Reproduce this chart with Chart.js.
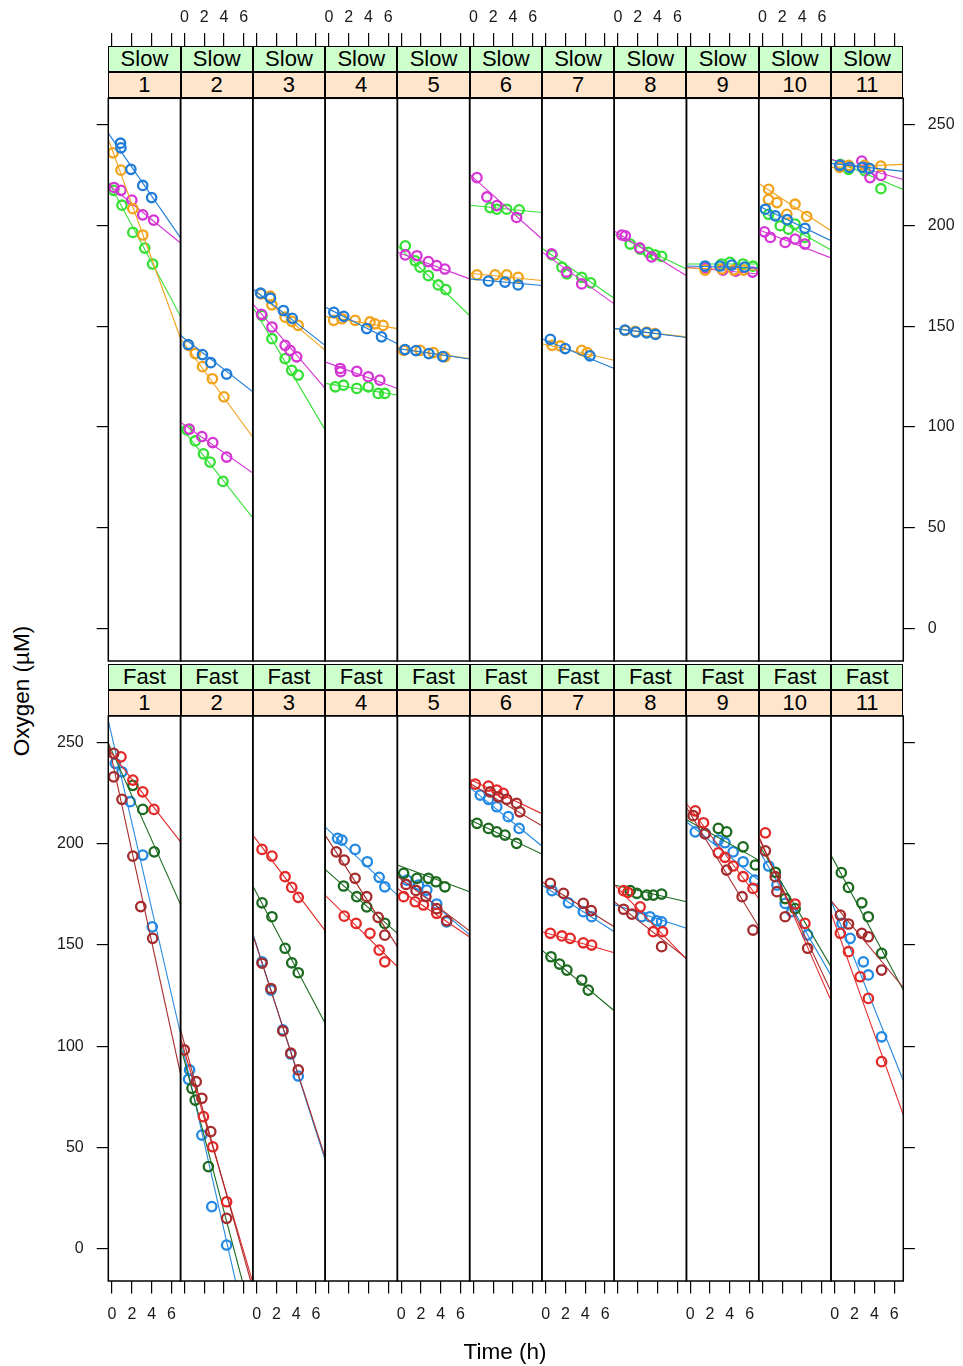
<!DOCTYPE html>
<html>
<head>
<meta charset="utf-8">
<script src="https://cdn.jsdelivr.net/npm/chart.js@4.4.1/dist/chart.umd.min.js"></script>
<style>
  body { margin: 0; background: #fff; }
  #page { position: relative; width: 963px; height: 1366px; overflow: hidden; font-family: "Liberation Sans", Arial, sans-serif; }
  .strip { position: absolute; box-sizing: border-box; border: 1px solid #000; text-align: center; font-size: 22px; color: #000; }
  .panel { position: absolute; }
  .title { position: absolute; font-size: 22.5px; color: #000; white-space: nowrap; }
</style>
</head>
<body>
<div id="page"></div>
<script>
// axis ticks and strip labels
const xTicks = [0, 2, 4, 6];
const yTicks = [0, 50, 100, 150, 200, 250];
const rowLabels = ['Slow', 'Fast'];
const panelLabels = ['1', '2', '3', '4', '5', '6', '7', '8', '9', '10', '11'];

// points: [series, time (h), oxygen (µM)]
// slow series: 0 blue, 1 orange, 2 magenta, 3 green
const slow1 = [
  [0, 0.85, 241], [0, 0.9, 238.7], [0, 1.9, 228], [0, 3.1, 220], [0, 4.0, 214],
  [1, 0.1, 236.2], [1, 0.9, 227.6], [1, 2.1, 208.5], [1, 3.1, 195.4],
  [2, 0.2, 219], [2, 0.9, 217.6], [2, 2.0, 212.7], [2, 3.1, 205.4], [2, 4.2, 202.8],
  [3, 0.16, 217.6], [3, 1.0, 210.2], [3, 2.1, 196.7], [3, 3.3, 188.9], [3, 4.1, 181]
];
const slow2 = [
  [0, 0.4, 141], [0, 1.83, 136], [0, 2.67, 132], [0, 4.27, 126.3],
  [1, 0.43, 140.6], [1, 1.1, 136.5], [1, 1.83, 130], [1, 2.83, 124], [1, 4.0, 115],
  [2, 0.5, 99], [2, 1.77, 95.3], [2, 2.87, 92.3], [2, 4.27, 85.1],
  [3, 0.27, 98.6], [3, 1.1, 93.1], [3, 1.93, 86.7], [3, 2.6, 82.6], [3, 3.9, 73]
];
const slow3 = [
  [0, 0.4, 166.5], [0, 1.4, 164], [0, 2.71, 157.9], [0, 3.6, 154],
  [1, 0.45, 166.2], [1, 1.38, 165], [1, 1.55, 160.7], [1, 2.88, 154.6], [1, 3.55, 152.5], [1, 4.2, 150.5],
  [2, 0.5, 156], [2, 1.55, 149.7], [2, 2.88, 140.6], [2, 3.38, 138.1], [2, 4.05, 134.9],
  [3, 0.55, 155.4], [3, 1.55, 143.9], [3, 2.88, 134], [3, 3.55, 128.2], [3, 4.2, 125.8]
];
const slow4 = [
  [0, 0.5, 157], [0, 1.5, 155], [0, 3.82, 148.9], [0, 5.32, 144.8],
  [1, 0.48, 153], [1, 1.32, 153.8], [1, 2.65, 153], [1, 4.15, 152.2], [1, 4.65, 151.3], [1, 5.48, 150.5],
  [2, 1.15, 129.1], [2, 1.2, 127.5], [2, 2.82, 127.7], [2, 3.98, 125], [2, 5.15, 123.3],
  [3, 0.65, 120], [3, 1.48, 120.8], [3, 2.82, 119.2], [3, 3.98, 120], [3, 4.98, 116.7], [3, 5.65, 116.7]
];
const slow5 = [
  [0, 0.4, 138.5], [0, 1.5, 138], [0, 2.8, 136.5], [0, 4.2, 135],
  [1, 0.25, 138.1], [1, 1.92, 138.1], [1, 3.25, 137], [1, 4.42, 134.9],
  [2, 0.42, 185.5], [2, 1.59, 185.1], [2, 2.75, 182.2], [2, 3.59, 180.2], [2, 4.42, 178.5],
  [3, 0.42, 190], [3, 1.42, 182.6], [3, 1.92, 179.4], [3, 2.75, 175.2], [3, 3.75, 170.6], [3, 4.52, 168.3]
];
const slow6 = [
  [0, 1.52, 172.5], [0, 3.19, 172], [0, 4.52, 170.6],
  [1, 0.36, 175.6], [1, 2.19, 175.6], [1, 3.36, 175.6], [1, 4.52, 174.4],
  [2, 0.36, 223.9], [2, 1.36, 214.3], [2, 2.36, 210], [2, 4.36, 204.1],
  [3, 1.69, 209], [3, 2.36, 208.2], [3, 3.36, 208.2], [3, 4.62, 207.9]
];
const slow7 = [
  [0, 0.47, 143.6], [0, 1.97, 139], [0, 4.47, 135.4],
  [1, 0.64, 140.6], [1, 1.47, 140.3], [1, 3.64, 138.1], [1, 4.2, 137],
  [2, 0.6, 186], [2, 2.1, 177], [2, 3.64, 171.1],
  [3, 0.64, 185.5], [3, 1.64, 179.4], [3, 2.14, 176.1], [3, 3.64, 174.4], [3, 4.54, 171.6]
];
const slow8 = [
  [0, 0.7, 148.2], [0, 1.8, 147.2], [0, 2.9, 146.8], [0, 3.8, 146],
  [1, 0.74, 148], [1, 1.74, 147.5], [1, 2.91, 147.2], [1, 3.74, 146.4],
  [2, 0.41, 195.4], [2, 0.74, 195], [2, 2.2, 189], [2, 3.4, 184.5],
  [3, 1.24, 190.9], [3, 2.24, 188.4], [3, 3.07, 186.8], [3, 3.74, 185.5], [3, 4.41, 184.8]
];
const slow9 = [
  [0, 1.5, 180], [0, 3.0, 180], [0, 4.2, 180.5], [0, 5.5, 179.5],
  [1, 1.5, 178], [1, 3.2, 178.5], [1, 4.4, 178], [1, 5.4, 178],
  [2, 1.6, 179], [2, 3.3, 178], [2, 4.6, 177.5], [2, 6.3, 177],
  [3, 1.51, 179.4], [3, 3.18, 181], [3, 4.01, 181.8], [3, 5.34, 181], [3, 6.34, 179.9]
];
const slow10 = [
  [0, 0.29, 208.2], [0, 1.29, 204.9], [0, 2.5, 203], [0, 4.29, 198.7],
  [1, 0.62, 218.1], [1, 0.6, 213], [1, 1.46, 211.5], [1, 2.46, 205.7], [1, 3.29, 210.7], [1, 4.46, 204.6],
  [2, 0.2, 197], [2, 0.79, 194.2], [2, 2.29, 191.7], [2, 3.29, 193.4], [2, 4.29, 190.9],
  [3, 0.62, 205.7], [3, 1.79, 200], [3, 2.62, 198.3], [3, 3.29, 200.8], [3, 4.29, 194.2]
];
const slow11 = [
  [0, 0.5, 230], [0, 1.5, 229], [0, 2.8, 229], [0, 3.5, 228.5],
  [1, 0.5, 229], [1, 1.4, 230], [1, 3.0, 230], [1, 4.66, 229.6],
  [2, 0.6, 230], [2, 2.73, 232.1], [2, 3.56, 223.9], [2, 4.66, 225],
  [3, 0.56, 230.5], [3, 1.39, 228], [3, 3.06, 227.2], [3, 4.66, 218.4]
];

// fast series: 0 brown, 1 red, 2 dark green, 3 blue
const fast1 = [
  [0, 0.16, 244.8], [0, 0.16, 233.2], [0, 1.0, 222.1], [0, 2.1, 194], [0, 2.9, 169], [0, 4.1, 153.3],
  [1, 0.9, 243.1], [1, 2.1, 231.6], [1, 3.1, 225.8], [1, 4.23, 217.1],
  [2, 2.1, 229], [2, 3.1, 217.1], [2, 4.26, 196.1],
  [3, 0.33, 239.9], [3, 1.0, 235.7], [3, 1.83, 220.9], [3, 3.1, 194.5], [3, 4.06, 159]
];
const fast2 = [
  [0, 0.0, 98.1], [0, 1.2, 82.4], [0, 1.77, 74.2], [0, 2.67, 57.7], [0, 4.27, 14.8],
  [1, 1.93, 65.1], [1, 2.87, 50.2], [1, 4.27, 23],
  [2, 0.77, 79.1], [2, 1.1, 73.3], [2, 2.43, 40.4],
  [3, 0.43, 83.6], [3, 0.53, 88.2], [3, 1.77, 56], [3, 2.77, 20.6], [3, 4.27, 1.6]
];
const fast3 = [
  [0, 0.55, 141], [0, 1.45, 128.5], [0, 2.65, 107.5], [0, 3.45, 96.5], [0, 4.21, 88.2],
  [1, 0.55, 197.3], [1, 1.55, 194], [1, 2.88, 183.8], [1, 3.55, 178.5], [1, 4.21, 173.6],
  [2, 0.55, 170.9], [2, 1.55, 164], [2, 2.88, 148.4], [2, 3.55, 141.2], [2, 4.21, 136.3],
  [3, 0.55, 141.7], [3, 1.45, 127.7], [3, 2.65, 108], [3, 3.45, 96.1], [3, 4.21, 85.2]
];
const fast4 = [
  [0, 0.75, 196.1], [0, 1.55, 192], [0, 2.65, 183], [0, 3.82, 173.9], [0, 4.98, 163.7], [0, 5.65, 154.9],
  [1, 1.55, 164.3], [1, 2.75, 160.7], [1, 4.15, 155.8], [1, 5.08, 147.5], [1, 5.65, 141.7],
  [2, 1.48, 179.2], [2, 2.82, 173.9], [2, 3.82, 168.9], [2, 5.65, 160.7],
  [3, 0.88, 202.8], [3, 1.32, 201.9], [3, 2.65, 197.3], [3, 3.88, 191.2], [3, 5.08, 183.5], [3, 5.65, 178.8]
];
const fast5 = [
  [0, 0.5, 180], [0, 1.5, 177], [0, 2.5, 174], [0, 3.6, 168], [0, 4.6, 162],
  [1, 0.25, 173.9], [1, 1.42, 171.4], [1, 2.25, 169.8], [1, 3.59, 165.7],
  [2, 0.25, 185.5], [2, 1.59, 183], [2, 2.75, 183], [2, 3.52, 181.3], [2, 4.42, 178.8],
  [3, 0.59, 182.1], [3, 1.75, 179.7], [3, 2.59, 177.2], [3, 3.59, 170.3], [3, 4.59, 161.5]
];
const fast6 = [
  [0, 1.69, 225.8], [0, 2.52, 223.3], [0, 3.36, 222.1], [0, 4.36, 220.1], [0, 4.69, 215.9],
  [1, 0.19, 229.6], [1, 1.52, 228.6], [1, 2.36, 226.7], [1, 3.02, 225],
  [2, 0.36, 210.2], [2, 1.52, 207.7], [2, 2.36, 206], [2, 3.19, 204.4], [2, 4.36, 200.3],
  [3, 0.69, 224.2], [3, 1.52, 222.1], [3, 2.36, 218.4], [3, 3.52, 213.5], [3, 4.62, 207.7]
];
const fast7 = [
  [0, 0.47, 180.5], [0, 1.8, 175.6], [0, 3.8, 170.6], [0, 4.6, 167],
  [1, 0.47, 155.8], [1, 1.64, 154.5], [1, 2.47, 153.3], [1, 3.8, 151.1], [1, 4.64, 150],
  [2, 0.54, 144.2], [2, 1.4, 140.6], [2, 2.14, 137.6], [2, 3.64, 132.7], [2, 4.3, 127.7],
  [3, 0.64, 176.9], [3, 2.3, 170.9], [3, 3.8, 166.5], [3, 4.64, 164]
];
const fast8 = [
  [0, 0.57, 167.7], [0, 1.41, 165.3], [0, 4.41, 149.2],
  [1, 0.57, 176.9], [1, 1.0, 176], [1, 2.24, 168.9], [1, 3.57, 156.6], [1, 4.51, 156.6],
  [2, 1.24, 176.9], [2, 1.91, 175.6], [2, 2.91, 174.7], [2, 3.57, 174.7], [2, 4.41, 175.2],
  [3, 2.41, 164], [3, 3.23, 164], [3, 3.91, 162], [3, 4.41, 161.5]
];
const fast9 = [
  [0, 0.3, 214], [0, 1.5, 205], [0, 3.68, 187.1], [0, 5.24, 173.9], [0, 6.34, 157.4],
  [1, 0.51, 216.4], [1, 1.34, 210.5], [1, 2.84, 195.6], [1, 3.51, 193.4], [1, 4.34, 189.1], [1, 5.34, 183.8], [1, 6.34, 178],
  [2, 2.84, 207.7], [2, 3.68, 206], [2, 5.34, 198.6], [2, 6.58, 189.6],
  [3, 0.51, 206], [3, 1.51, 205.2], [3, 2.84, 201.9], [3, 3.51, 200.6], [3, 4.34, 196.1], [3, 5.34, 191.2], [3, 6.51, 182.1]
];
const fast10 = [
  [0, 0.29, 196.6], [0, 1.29, 183.8], [0, 1.46, 176.4], [0, 2.29, 164], [0, 4.56, 148.4],
  [1, 0.29, 205.5], [1, 3.29, 170.3], [1, 4.29, 160.7],
  [2, 1.3, 186], [2, 2.3, 173], [2, 3.3, 168],
  [3, 0.62, 189.1], [3, 1.46, 179.7], [3, 2.29, 170.6], [3, 2.96, 166.5], [3, 4.56, 155]
];
const fast11 = [
  [0, 0.56, 164.8], [0, 1.39, 160.4], [0, 2.73, 155.8], [0, 3.39, 154.1], [0, 4.73, 137.6],
  [1, 0.56, 155.8], [1, 1.39, 146.7], [1, 2.56, 134.3], [1, 3.39, 123.6], [1, 4.73, 92.3],
  [2, 0.66, 185.8], [2, 1.39, 178.5], [2, 2.73, 170.9], [2, 3.39, 164], [2, 4.73, 145.9],
  [3, 0.73, 160.7], [3, 1.56, 153.3], [3, 2.89, 141.7], [3, 3.39, 135.2], [3, 4.73, 104.6]
];

// fitted lines: oxygen at the left and right edge of each panel, per series
const slowFitStart = [
  [246, 243, 220.5, 222], [145.5, 144, 102.4, 100.2], [168.6, 168.6, 161.2, 159.6],
  [159.6, 155, 132.4, 121.7], [139, 139, 186.8, 190], [173.6, 176.4, 225.5, 210.2],
  [143.9, 141.4, 187, 188.8], [149, 148.9, 197.4, 195.8], [180, 179, 179.4, 181],
  [209.8, 221, 198, 208], [231, 229, 233, 233]
];
const slowFitEnd = [
  [194, 144, 191.4, 155], [117.5, 95, 77.2, 54.9], [140.6, 138.1, 119.2, 98.6],
  [141.4, 148.9, 119.2, 115.9], [133.8, 134, 173.6, 155.4], [170.3, 172.8, 193.4, 206.6],
  [129.1, 133.2, 161.2, 164], [144.5, 144.8, 175.2, 178.5], [179, 178, 176, 181],
  [192.6, 197.5, 184, 188], [227, 230.5, 223, 218]
];
const fastFitStart = [
  [250, 247, 250, 261], [108, 104, 100, 104], [155, 204.4, 179.2, 155.8],
  [204.4, 174.7, 187.4, 208.5], [184, 178, 189.6, 186], [230, 232, 212, 228],
  [181.3, 156.6, 147.5, 179.7], [171.4, 180, 179.7, 170], [218, 220, 212, 211],
  [203, 204, 200, 197], [172, 166, 194.5, 172]
];
const fastFitEnd = [
  [86, 201, 170, 106], [-20, -17, -36, -54], [45, 157.1, 111.3, 43.7],
  [149.2, 139.3, 155.8, 174.7], [157, 154, 176.4, 155], [209, 215, 195, 199],
  [159, 146.2, 117.5, 156.6], [143.4, 143, 171.4, 158.3], [159, 173, 192, 182],
  [127, 122.5, 139.3, 135], [129, 66, 127.7, 83]
];

const slowPanels = [slow1, slow2, slow3, slow4, slow5, slow6, slow7, slow8, slow9, slow10, slow11];
const fastPanels = [fast1, fast2, fast3, fast4, fast5, fast6, fast7, fast8, fast9, fast10, fast11];

// look
const slowColors = ['#1f7cd6', '#f2a31c', '#d535d5', '#34e034'];
const fastColors = ['#a52b2c', '#e32a28', '#1b6a1f', '#2389e2'];
const FONT = '"Liberation Sans", Arial, sans-serif';
const X_MIN = -0.38, X_MAX = 6.92, Y_MIN = -16.2, Y_MAX = 263.3;
const PANEL_LEFT = 108.3, PANEL_W = 72.27;

const rows = [
  { label: rowLabels[0], panels: slowPanels, fitStart: slowFitStart, fitEnd: slowFitEnd, colors: slowColors,
    stripTop: 45.5, plotTop: 98.3, plotBottom: 663.5, canvasTop: 0, canvasBottom: 668 },
  { label: rowLabels[1], panels: fastPanels, fitStart: fastFitStart, fitEnd: fastFitEnd, colors: fastColors,
    stripTop: 663.5, plotTop: 716, plotBottom: 1281, canvasTop: 660, canvasBottom: 1340 }
];

const page = document.getElementById('page');

// black frame round each panel
const panelFrame = {
  id: 'panelFrame',
  afterDraw(chart) {
    const a = chart.chartArea;
    const ctx = chart.ctx;
    ctx.save();
    ctx.strokeStyle = '#000';
    ctx.lineWidth = 1.5;
    ctx.strokeRect(a.left, a.top, a.right - a.left, a.bottom - a.top);
    ctx.restore();
  }
};

function addStrip(text, left, top, width, height, bg) {
  const d = document.createElement('div');
  d.className = 'strip';
  d.style.left = left + 'px';
  d.style.top = top + 'px';
  d.style.width = width + 'px';
  d.style.height = height + 'px';
  d.style.lineHeight = (height - 2) + 'px';
  d.style.background = bg;
  d.textContent = text;
  page.appendChild(d);
}

function fixedTicks(values) {
  return function (scale) {
    scale.ticks = values.map(v => ({ value: v }));
  };
}

// fixed box sizes, and no extra room for overhanging tick labels
function fixedSize(prop, size) {
  return function (scale) {
    scale[prop] = size;
    scale.paddingTop = 0;
    scale.paddingBottom = 0;
    scale.paddingLeft = 0;
    scale.paddingRight = 0;
  };
}

function makePanel(r, i) {
  const row = rows[r];
  const l = PANEL_LEFT + i * PANEL_W;
  const rt = l + PANEL_W;
  const cl = Math.floor(l) - 60;
  const cw = Math.ceil(rt) + 60 - cl;
  const ch = row.canvasBottom - row.canvasTop;
  const leftW = l - cl;
  const rightW = cl + cw - rt;

  // strips
  const sh = (row.plotTop - row.stripTop) / 2;
  addStrip(row.label, l, row.stripTop, PANEL_W, sh, '#ccffcc');
  addStrip(panelLabels[i], l, row.stripTop + sh, PANEL_W, sh, '#ffe5cc');

  const canvas = document.createElement('canvas');
  canvas.className = 'panel';
  canvas.width = cw;
  canvas.height = ch;
  canvas.style.left = cl + 'px';
  canvas.style.top = row.canvasTop + 'px';
  canvas.style.width = cw + 'px';
  canvas.style.height = ch + 'px';
  page.appendChild(canvas);

  const pts = row.panels[i];
  const datasets = [];
  for (let s = 0; s < 4; s++) {
    const c = row.colors[s];
    datasets.push({
      data: [{ x: X_MIN, y: row.fitStart[i][s] }, { x: X_MAX, y: row.fitEnd[i][s] }],
      showLine: true,
      borderColor: c,
      borderWidth: 1.1,
      pointRadius: 0
    });
    datasets.push({
      data: pts.filter(p => p[0] === s).map(p => ({ x: p[1], y: p[2] })),
      showLine: false,
      pointStyle: 'circle',
      pointRadius: 4.7,
      pointBorderWidth: 2.3,
      pointBorderColor: c,
      pointBackgroundColor: 'rgba(0,0,0,0)'
    });
  }

  const top = r === 0;
  const showX = top ? (i % 2 === 1) : (i % 2 === 0);
  const tickFont = { family: FONT, size: 16 };
  const clear = 'rgba(0,0,0,0)';

  new Chart(canvas, {
    type: 'scatter',
    data: { datasets },
    plugins: [panelFrame],
    options: {
      responsive: false,
      animation: false,
      devicePixelRatio: 1,
      layout: { padding: { top: 0, left: 0, right: 0, bottom: top ? row.canvasBottom - row.plotBottom : 0 } },
      plugins: { legend: { display: false }, tooltip: { enabled: false } },
      scales: {
        x: {
          type: 'linear',
          position: top ? 'top' : 'bottom',
          weight: 2,
          min: X_MIN,
          max: X_MAX,
          afterBuildTicks: fixedTicks(xTicks),
          afterFit: fixedSize('height', top ? row.stripTop - row.canvasTop : row.canvasBottom - row.plotBottom),
          grid: { drawOnChartArea: false, drawTicks: true, tickLength: 12.5, color: '#000', lineWidth: 1.2 },
          border: { display: false },
          ticks: { color: showX ? '#1a1a1a' : clear, font: tickFont, padding: top ? 5.4 : 11.6, maxRotation: 0, autoSkip: false }
        },
        strip: {
          type: 'linear',
          position: 'top',
          weight: 1,
          afterFit: fixedSize('height', top ? row.plotTop - row.stripTop : row.plotTop - row.canvasTop),
          grid: { display: false },
          border: { display: false },
          ticks: { display: false }
        },
        y: {
          type: 'linear',
          position: 'left',
          min: Y_MIN,
          max: Y_MAX,
          afterBuildTicks: fixedTicks(yTicks),
          afterFit: fixedSize('width', leftW),
          grid: { display: i === 0, drawOnChartArea: false, tickLength: 11.6, color: '#000', lineWidth: 1.2 },
          border: { display: false },
          ticks: { color: (i === 0 && !top) ? '#1a1a1a' : clear, font: tickFont, padding: 13 }
        },
        y2: {
          type: 'linear',
          position: 'right',
          min: Y_MIN,
          max: Y_MAX,
          afterBuildTicks: fixedTicks(yTicks),
          afterFit: fixedSize('width', rightW),
          grid: { display: i === 10, drawOnChartArea: false, tickLength: 11.6, color: '#000', lineWidth: 1.2 },
          border: { display: false },
          ticks: { color: (i === 10 && top) ? '#1a1a1a' : clear, font: tickFont, padding: 13 }
        }
      }
    }
  });
}

for (let r = 0; r < 2; r++) {
  for (let i = 0; i < 11; i++) makePanel(r, i);
}

// axis titles
const yTitle = document.createElement('div');
yTitle.className = 'title';
yTitle.textContent = 'Oxygen (µM)';
yTitle.style.left = '22px';
yTitle.style.top = '691px';
yTitle.style.transform = 'translate(-50%, -50%) rotate(-90deg)';
page.appendChild(yTitle);

const xTitle = document.createElement('div');
xTitle.className = 'title';
xTitle.textContent = 'Time (h)';
xTitle.style.left = '505px';
xTitle.style.top = '1352px';
xTitle.style.transform = 'translate(-50%, -50%)';
page.appendChild(xTitle);
</script>
</body>
</html>
